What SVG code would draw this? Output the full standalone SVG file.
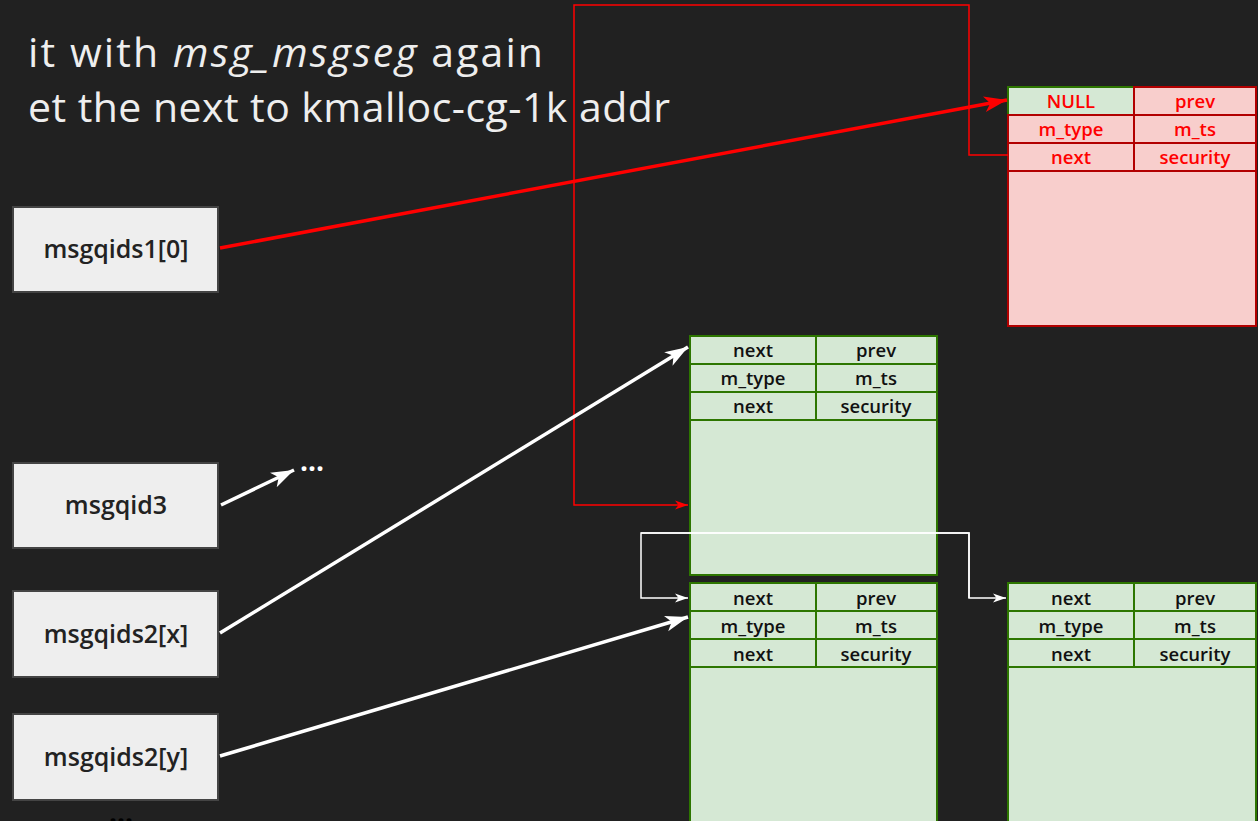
<svg xmlns="http://www.w3.org/2000/svg" width="1258" height="821" viewBox="0 0 1258 821">
<defs>
<style>
.title{font-family:"Open Sans","Liberation Sans",sans-serif;font-size:41px;fill:#eeeeee}
.lbl{font-family:"Open Sans","Liberation Sans",sans-serif;font-size:25px;font-weight:600;fill:#222222;text-anchor:middle}
.cell{font-family:"Open Sans","Liberation Sans",sans-serif;font-size:18.5px;font-weight:600;text-anchor:middle}
.g rect{fill:#d5e8d4;stroke:#2d7600;stroke-width:2}
.g text{fill:#111111}
.r rect{fill:#f8cecc;stroke:#b20000;stroke-width:2}
.r text{fill:#ff0000}
.r rect.ok{fill:#d5e8d4;stroke:#2d7600}
.box{fill:#eeeeee;stroke:#444444;stroke-width:2}
</style>
<marker id="aw" markerUnits="userSpaceOnUse" markerWidth="24" markerHeight="18" viewBox="0 0 24 18" refX="23" refY="9" orient="auto">
<path d="M0,1 L23,9 L0,17 L6,9 Z" fill="#ffffff"/>
</marker>
<marker id="ar" markerUnits="userSpaceOnUse" markerWidth="24" markerHeight="18" viewBox="0 0 24 18" refX="23" refY="9" orient="auto">
<path d="M0,1 L23,9 L0,17 L6,9 Z" fill="#ff0000"/>
</marker>
<marker id="aws" markerUnits="userSpaceOnUse" markerWidth="14" markerHeight="10" viewBox="0 0 14 10" refX="13" refY="5" orient="auto">
<path d="M0,0.5 L13,5 L0,9.5 L3.5,5 Z" fill="#ffffff"/>
</marker>
<marker id="ars" markerUnits="userSpaceOnUse" markerWidth="14" markerHeight="10" viewBox="0 0 14 10" refX="13" refY="5" orient="auto">
<path d="M0,0.5 L13,5 L0,9.5 L3.5,5 Z" fill="#ff0000"/>
</marker>
</defs>
<rect x="0" y="0" width="1258" height="821" fill="#212121"/>

<g id="title">
<text class="title" x="28" y="67" textLength="515" lengthAdjust="spacing">it with <tspan font-style="italic">msg_msgseg</tspan> again</text>
<text class="title" x="28" y="122" textLength="642" lengthAdjust="spacing">et the next to kmalloc-cg-1k addr</text>
</g>

<g id="node-msgqids1-0"><rect class="box" x="13" y="207" width="205" height="85"/><text class="lbl" x="116" y="258">msgqids1[0]</text></g>
<g id="node-msgqid3"><rect class="box" x="13" y="463" width="205" height="85"/><text class="lbl" x="116" y="514">msgqid3</text></g>
<g id="node-msgqids2-x"><rect class="box" x="13" y="591" width="205" height="86"/><text class="lbl" x="116" y="643">msgqids2[x]</text></g>
<g id="node-msgqids2-y"><rect class="box" x="13" y="714" width="205" height="86"/><text class="lbl" x="116" y="766">msgqids2[y]</text></g>

<g id="node-red" class="r">
<rect x="1008" y="171" width="248" height="155"/>
<rect class="ok" x="1008" y="87" width="126" height="28"/>
<rect x="1134" y="87" width="122" height="28"/>
<rect x="1008" y="115" width="126" height="28"/>
<rect x="1134" y="115" width="122" height="28"/>
<rect x="1008" y="143" width="126" height="28"/>
<rect x="1134" y="143" width="122" height="28"/>
<text class="cell" x="1071" y="108">NULL</text>
<text class="cell" x="1195" y="108">prev</text>
<text class="cell" x="1071" y="136">m_type</text>
<text class="cell" x="1195" y="136">m_ts</text>
<text class="cell" x="1071" y="164">next</text>
<text class="cell" x="1195" y="164">security</text>
</g>

<g id="node-green1" class="g">
<rect x="690" y="420" width="247" height="155"/>
<rect x="690" y="336" width="126" height="28"/>
<rect x="816" y="336" width="121" height="28"/>
<rect x="690" y="364" width="126" height="28"/>
<rect x="816" y="364" width="121" height="28"/>
<rect x="690" y="392" width="126" height="28"/>
<rect x="816" y="392" width="121" height="28"/>
<text class="cell" x="753" y="357">next</text>
<text class="cell" x="876" y="357">prev</text>
<text class="cell" x="753" y="385">m_type</text>
<text class="cell" x="876" y="385">m_ts</text>
<text class="cell" x="753" y="413">next</text>
<text class="cell" x="876" y="413">security</text>
</g>

<g id="node-green2" class="g">
<rect x="690" y="667" width="247" height="170"/>
<rect x="690" y="583" width="126" height="28"/>
<rect x="816" y="583" width="121" height="28"/>
<rect x="690" y="611" width="126" height="28"/>
<rect x="816" y="611" width="121" height="28"/>
<rect x="690" y="639" width="126" height="28"/>
<rect x="816" y="639" width="121" height="28"/>
<text class="cell" x="753" y="605">next</text>
<text class="cell" x="876" y="605">prev</text>
<text class="cell" x="753" y="633">m_type</text>
<text class="cell" x="876" y="633">m_ts</text>
<text class="cell" x="753" y="661">next</text>
<text class="cell" x="876" y="661">security</text>
</g>

<g id="node-green3" class="g">
<rect x="1008" y="667" width="248" height="170"/>
<rect x="1008" y="583" width="126" height="28"/>
<rect x="1134" y="583" width="122" height="28"/>
<rect x="1008" y="611" width="126" height="28"/>
<rect x="1134" y="611" width="122" height="28"/>
<rect x="1008" y="639" width="126" height="28"/>
<rect x="1134" y="639" width="122" height="28"/>
<text class="cell" x="1071" y="605">next</text>
<text class="cell" x="1195" y="605">prev</text>
<text class="cell" x="1071" y="633">m_type</text>
<text class="cell" x="1195" y="633">m_ts</text>
<text class="cell" x="1071" y="661">next</text>
<text class="cell" x="1195" y="661">security</text>
</g>

<g id="dots">
<text class="lbl" x="312" y="471" style="fill:#ffffff;font-size:28px;font-weight:700">...</text>
<text class="lbl" x="121" y="823" style="fill:#000000;font-size:28px;font-weight:700">...</text>
</g>

<g id="connectors" fill="none">
<path d="M1008,155 H969 V5 H574 V505 H688" stroke="#ff0000" stroke-width="1.5" marker-end="url(#ars)"/>
<path d="M220,248 L1007,100" stroke="#ff0000" stroke-width="3.5" marker-end="url(#ar)"/>
<path d="M221,505 L294,470" stroke="#ffffff" stroke-width="3.5" marker-end="url(#aw)"/>
<path d="M220,633 L688,347" stroke="#ffffff" stroke-width="3.5" marker-end="url(#aw)"/>
<path d="M220,756 L688,617" stroke="#ffffff" stroke-width="3.5" marker-end="url(#aw)"/>
<path d="M969,598 V533 H641 V598 H688" stroke="#ffffff" stroke-width="1.5" marker-end="url(#aws)"/>
<path d="M641,533 H969 V598 H1006" stroke="#ffffff" stroke-width="1.5" marker-end="url(#aws)"/>
</g>
</svg>
